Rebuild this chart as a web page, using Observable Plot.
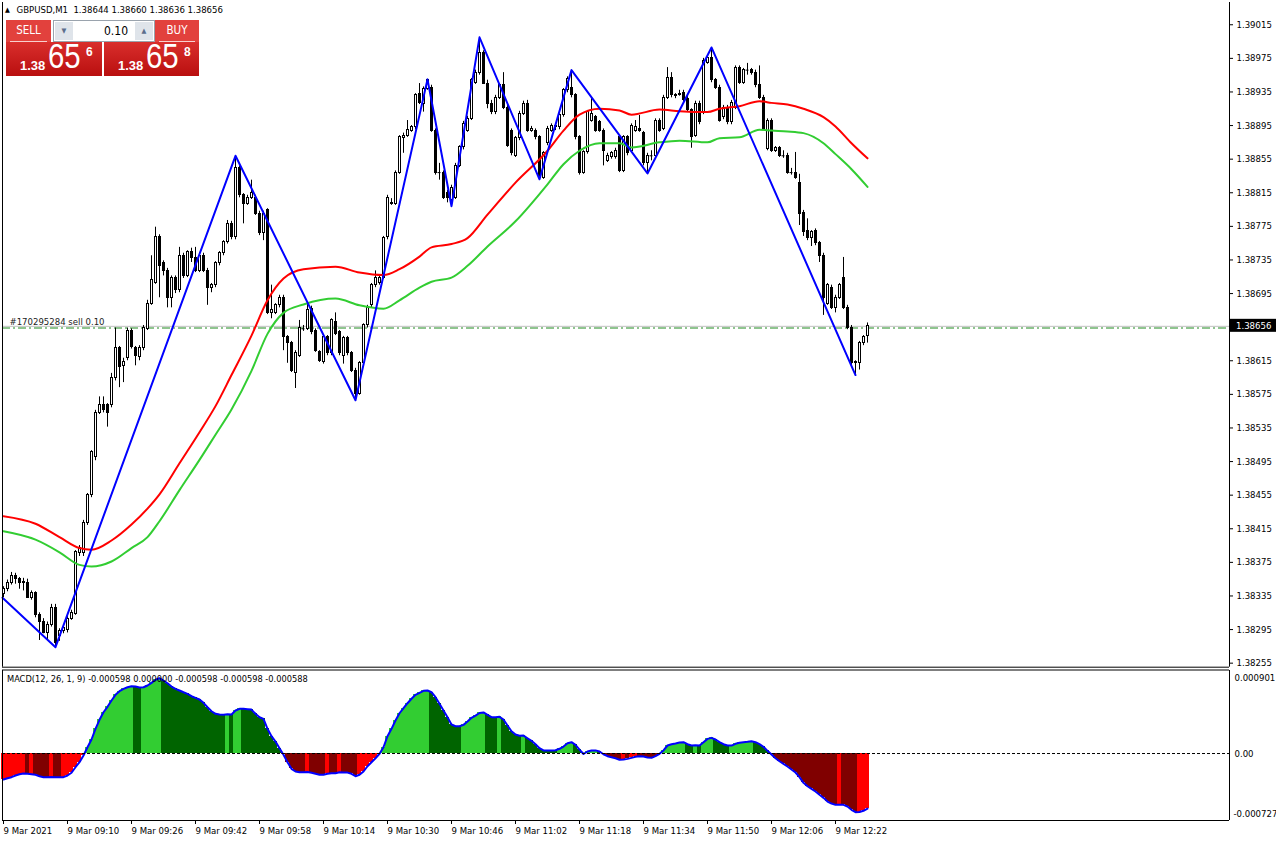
<!DOCTYPE html>
<html><head><meta charset="utf-8">
<script src="https://cdn.jsdelivr.net/npm/d3@7"></script>
<script src="https://cdn.jsdelivr.net/npm/@observablehq/plot@0.6"></script>
<style>
html,body{margin:0;padding:0;background:#fff;}
#wrap{position:relative;width:1276px;height:841px;overflow:hidden;font-family:"DejaVu Sans Condensed","DejaVu Sans",sans-serif;font-stretch:condensed;}
#wrap svg{position:absolute;left:0;top:0;}
#hdr{position:absolute;left:5px;top:4px;font-size:9.5px;white-space:pre;color:#000;line-height:12px;}
#hdr .tri{font-size:7px;vertical-align:1px;margin-right:4px;}
#macdt{position:absolute;left:7px;top:673px;font-size:9.2px;white-space:pre;color:#000;line-height:12px;}
.tb{position:absolute;top:20px;height:22px;background:#e2413d;color:#fff;font-size:11.5px;text-align:center;line-height:20px;font-family:"DejaVu Sans","Liberation Sans",sans-serif;}
.tb .ul{position:absolute;left:4px;right:4px;bottom:0;height:1px;background:rgba(255,255,255,0.75);}
.inp{position:absolute;left:53px;top:20px;width:100px;height:20px;background:#fff;border:1px solid #9aa3ad;}
.spin{position:absolute;top:1px;width:18px;height:18px;background:#dfe4ea;color:#5b6d8c;font-size:7px;text-align:center;line-height:18px;}
.val{position:absolute;right:26px;top:0;font-size:12px;line-height:20px;color:#000;font-family:"DejaVu Sans","Liberation Sans",sans-serif;}
.big{position:absolute;top:42px;height:34px;background:linear-gradient(#d92e2c,#b90f0f);color:#fff;font-family:"Liberation Sans","DejaVu Sans",sans-serif;}
.big span{position:absolute;white-space:nowrap;}
.big .s{font-size:13px;line-height:15px;font-weight:bold;top:16px;}
.big .b{font-size:35px;line-height:35px;top:-4px;transform:scaleX(0.84);transform-origin:0 0;}
.big .p{font-size:12px;line-height:14px;font-weight:bold;top:3px;}
</style></head><body>
<div id="wrap">
  <div id="hdr"><span class="tri">▲</span> GBPUSD,M1  1.38644 1.38660 1.38636 1.38656</div>
  <div class="tb" style="left:6px;width:45px;">SELL<div class="ul"></div></div>
  <div class="inp"><div class="spin" style="left:1px;">▼</div><div class="val">0.10</div><div class="spin" style="right:1px;">▲</div></div>
  <div class="tb" style="left:155px;width:44px;">BUY<div class="ul"></div></div>
  <div class="big" style="left:6px;width:96px;"><span class="s" style="left:14px;">1.38</span><span class="b" style="left:42px;">65</span><span class="p" style="left:80px;">6</span></div>
  <div class="big" style="left:104px;width:95px;"><span class="s" style="left:14px;">1.38</span><span class="b" style="left:42px;">65</span><span class="p" style="left:80px;">8</span></div>
  <div id="macdt">MACD(12, 26, 1, 9) -0.000598 0.000000 -0.000598 -0.000598 -0.000588</div>
</div>
<script>
// ---------- DATA ----------
const openP = [1.38337,1.38343,1.38350,1.38359,1.38355,1.38351,1.38351,1.38333,1.38338,1.38312,
1.38304,1.38291,1.38300,1.38321,1.38287,1.38293,1.38294,1.38308,1.38314,1.38386,
1.38386,1.38422,1.38455,1.38500,1.38553,1.38562,1.38562,1.38562,1.38594,1.38630,
1.38609,1.38618,1.38651,1.38630,1.38619,1.38630,1.38653,1.38683,1.38708,1.38762,
1.38731,1.38722,1.38690,1.38713,1.38699,1.38740,1.38716,1.38744,1.38737,1.38722,
1.38740,1.38722,1.38702,1.38705,1.38731,1.38743,1.38756,1.38778,1.38762,1.38845,
1.38812,1.38802,1.38809,1.38809,1.38790,1.38767,1.38794,1.38672,1.38672,1.38681,
1.38690,1.38643,1.38636,1.38601,1.38621,1.38653,1.38653,1.38677,1.38651,1.38625,
1.38613,1.38643,1.38624,1.38661,1.38649,1.38621,1.38642,1.38624,1.38603,1.38576,
1.38612,1.38657,1.38681,1.38705,1.38707,1.38714,1.38762,1.38802,1.38802,1.38839,
1.38880,1.38883,1.38889,1.38893,1.38933,1.38921,1.38939,1.38940,1.38889,1.38839,
1.38839,1.38815,1.38806,1.38809,1.38847,1.38869,1.38889,1.38903,1.38946,1.38957,
1.38981,1.38945,1.38921,1.38911,1.38928,1.38943,1.38916,1.38889,1.38859,1.38880,
1.38909,1.38921,1.38889,1.38889,1.38881,1.38833,1.38874,1.38889,1.38894,1.38893,
1.38907,1.38937,1.38940,1.38931,1.38881,1.38839,1.38863,1.38901,1.38905,1.38899,
1.38889,1.38853,1.38857,1.38857,1.38881,1.38841,1.38881,1.38865,1.38889,1.38891,
1.38886,1.38850,1.38859,1.38859,1.38901,1.38891,1.38928,1.38952,1.38931,1.38931,
1.38934,1.38927,1.38913,1.38883,1.38921,1.38911,1.38970,1.38975,1.38949,1.38940,
1.38905,1.38916,1.38899,1.38916,1.38964,1.38946,1.38961,1.38961,1.38958,1.38943,
1.38928,1.38867,1.38901,1.38865,1.38868,1.38859,1.38859,1.38839,1.38839,1.38827,
1.38791,1.38770,1.38761,1.38770,1.38755,1.38740,1.38683,1.38702,1.38678,1.38690,
1.38713,1.38678,1.38654,1.38612,1.38612,1.38636,1.38644];
const highP = [1.38346,1.38354,1.38363,1.38362,1.38357,1.38356,1.38355,1.38341,1.38340,1.38315,
1.38308,1.38304,1.38325,1.38325,1.38296,1.38299,1.38312,1.38318,1.38389,1.38395,
1.38425,1.38457,1.38508,1.38556,1.38572,1.38572,1.38564,1.38600,1.38654,1.38632,
1.38618,1.38654,1.38653,1.38632,1.38633,1.38657,1.38687,1.38740,1.38774,1.38765,
1.38734,1.38725,1.38716,1.38716,1.38750,1.38743,1.38746,1.38749,1.38750,1.38744,
1.38743,1.38725,1.38707,1.38733,1.38745,1.38758,1.38782,1.38781,1.38859,1.38847,
1.38814,1.38812,1.38830,1.38812,1.38793,1.38793,1.38796,1.38705,1.38683,1.38693,
1.38693,1.38645,1.38638,1.38627,1.38663,1.38657,1.38683,1.38680,1.38653,1.38627,
1.38645,1.38645,1.38665,1.38672,1.38651,1.38644,1.38644,1.38626,1.38606,1.38614,
1.38659,1.38681,1.38707,1.38722,1.38716,1.38763,1.38812,1.38808,1.38841,1.38883,
1.38886,1.38901,1.38895,1.38933,1.38945,1.38941,1.38950,1.38943,1.38891,1.38850,
1.38841,1.38818,1.38824,1.38850,1.38871,1.38900,1.38906,1.38951,1.38961,1.39000,
1.38984,1.38949,1.38925,1.38931,1.38945,1.38958,1.38919,1.38891,1.38882,1.38912,
1.38924,1.38925,1.38894,1.38891,1.38883,1.38864,1.38894,1.38897,1.38896,1.38909,
1.38939,1.38953,1.38961,1.38933,1.38883,1.38865,1.38913,1.38928,1.38907,1.38901,
1.38891,1.38862,1.38864,1.38868,1.38883,1.38883,1.38883,1.38897,1.38901,1.38907,
1.38888,1.38862,1.38865,1.38903,1.38903,1.38931,1.38964,1.38958,1.38933,1.38937,
1.38937,1.38930,1.38915,1.38924,1.38924,1.38975,1.38977,1.38988,1.38951,1.38943,
1.38919,1.38919,1.38925,1.38966,1.38966,1.38963,1.38969,1.38963,1.38961,1.38966,
1.38931,1.38903,1.38903,1.38870,1.38870,1.38865,1.38862,1.38844,1.38863,1.38837,
1.38794,1.38784,1.38770,1.38772,1.38757,1.38743,1.38707,1.38705,1.38693,1.38707,
1.38738,1.38681,1.38657,1.38615,1.38638,1.38645,1.38660];
const lowP = [1.38333,1.38340,1.38348,1.38349,1.38343,1.38341,1.38332,1.38330,1.38309,1.38282,
1.38290,1.38282,1.38298,1.38274,1.38281,1.38290,1.38291,1.38306,1.38312,1.38382,
1.38382,1.38419,1.38452,1.38496,1.38551,1.38553,1.38536,1.38559,1.38591,1.38583,
1.38589,1.38615,1.38629,1.38609,1.38615,1.38627,1.38651,1.38681,1.38706,1.38690,
1.38716,1.38678,1.38678,1.38695,1.38696,1.38713,1.38714,1.38732,1.38720,1.38720,
1.38720,1.38681,1.38696,1.38702,1.38728,1.38740,1.38754,1.38759,1.38759,1.38809,
1.38778,1.38800,1.38807,1.38788,1.38764,1.38758,1.38670,1.38665,1.38670,1.38678,
1.38627,1.38612,1.38601,1.38582,1.38619,1.38650,1.38651,1.38646,1.38625,1.38613,
1.38611,1.38621,1.38621,1.38645,1.38621,1.38611,1.38621,1.38601,1.38568,1.38574,
1.38609,1.38654,1.38678,1.38702,1.38705,1.38712,1.38759,1.38800,1.38800,1.38837,
1.38862,1.38881,1.38887,1.38890,1.38920,1.38911,1.38937,1.38887,1.38836,1.38830,
1.38807,1.38803,1.38799,1.38807,1.38845,1.38866,1.38887,1.38901,1.38944,1.38955,
1.38944,1.38915,1.38908,1.38908,1.38926,1.38914,1.38869,1.38859,1.38857,1.38877,
1.38907,1.38887,1.38887,1.38878,1.38831,1.38831,1.38871,1.38887,1.38889,1.38890,
1.38905,1.38934,1.38928,1.38878,1.38836,1.38837,1.38861,1.38899,1.38887,1.38887,
1.38847,1.38851,1.38855,1.38855,1.38839,1.38839,1.38859,1.38863,1.38887,1.38887,
1.38847,1.38838,1.38853,1.38857,1.38887,1.38889,1.38926,1.38928,1.38927,1.38930,
1.38922,1.38911,1.38868,1.38881,1.38896,1.38908,1.38968,1.38946,1.38938,1.38899,
1.38902,1.38896,1.38896,1.38914,1.38944,1.38944,1.38955,1.38955,1.38940,1.38926,
1.38889,1.38865,1.38863,1.38863,1.38857,1.38856,1.38837,1.38836,1.38831,1.38776,
1.38763,1.38758,1.38751,1.38752,1.38732,1.38669,1.38681,1.38676,1.38672,1.38688,
1.38676,1.38652,1.38609,1.38598,1.38604,1.38633,1.38636];
const closeP = [1.38343,1.38350,1.38359,1.38355,1.38351,1.38352,1.38333,1.38338,1.38312,1.38304,
1.38291,1.38300,1.38321,1.38279,1.38293,1.38297,1.38308,1.38315,1.38387,1.38392,
1.38422,1.38455,1.38506,1.38553,1.38562,1.38556,1.38553,1.38595,1.38630,1.38607,
1.38613,1.38651,1.38631,1.38621,1.38630,1.38654,1.38683,1.38711,1.38762,1.38728,
1.38722,1.38690,1.38714,1.38699,1.38740,1.38716,1.38744,1.38737,1.38722,1.38740,
1.38722,1.38702,1.38705,1.38731,1.38743,1.38756,1.38778,1.38762,1.38844,1.38812,
1.38802,1.38809,1.38815,1.38790,1.38767,1.38790,1.38672,1.38675,1.38681,1.38690,
1.38643,1.38636,1.38603,1.38624,1.38654,1.38653,1.38675,1.38649,1.38627,1.38615,
1.38643,1.38624,1.38664,1.38647,1.38624,1.38642,1.38624,1.38603,1.38576,1.38612,
1.38657,1.38678,1.38705,1.38713,1.38713,1.38761,1.38809,1.38803,1.38839,1.38881,
1.38883,1.38890,1.38893,1.38931,1.38922,1.38939,1.38949,1.38889,1.38838,1.38839,
1.38809,1.38809,1.38821,1.38847,1.38869,1.38897,1.38903,1.38949,1.38957,1.38981,
1.38945,1.38921,1.38911,1.38928,1.38943,1.38916,1.38871,1.38862,1.38880,1.38909,
1.38921,1.38889,1.38891,1.38881,1.38833,1.38862,1.38891,1.38895,1.38893,1.38907,
1.38937,1.38951,1.38931,1.38881,1.38839,1.38863,1.38911,1.38909,1.38889,1.38889,
1.38865,1.38859,1.38862,1.38865,1.38841,1.38881,1.38862,1.38895,1.38893,1.38889,
1.38850,1.38859,1.38859,1.38901,1.38889,1.38928,1.38952,1.38931,1.38930,1.38933,
1.38925,1.38913,1.38881,1.38921,1.38899,1.38972,1.38975,1.38949,1.38940,1.38901,
1.38916,1.38899,1.38922,1.38964,1.38946,1.38961,1.38961,1.38957,1.38943,1.38928,
1.38891,1.38901,1.38865,1.38868,1.38859,1.38859,1.38839,1.38839,1.38833,1.38790,
1.38768,1.38761,1.38768,1.38755,1.38740,1.38690,1.38705,1.38678,1.38690,1.38705,
1.38678,1.38654,1.38612,1.38613,1.38636,1.38643,1.38656];

// moving averages at these bar indices
const maIdx = [0,8,14,19,22,27,32,36,39,44,49,53,57,62,66,70,75,83,89,95,99,104,107,112,116,121,128,136,140,144,149,154,157,164,169,176,179,184,189,192,196,200,205,208,212,216];
const redMA = [1.38430,1.38421,1.38405,1.38392,1.38390,1.38401,1.38420,1.38439,1.38456,1.38493,1.38530,1.38561,1.38598,1.38645,1.38687,1.38713,1.38724,1.38727,1.38720,1.38717,1.38724,1.38739,1.38750,1.38754,1.38761,1.38789,1.38827,1.38865,1.38889,1.38908,1.38915,1.38913,1.38908,1.38914,1.38912,1.38911,1.38915,1.38918,1.38924,1.38922,1.38920,1.38915,1.38905,1.38894,1.38874,1.38856];
const greenMA = [1.38412,1.38402,1.38387,1.38372,1.38370,1.38376,1.38392,1.38405,1.38424,1.38461,1.38497,1.38527,1.38557,1.38603,1.38647,1.38672,1.38682,1.38689,1.38681,1.38677,1.38687,1.38702,1.38709,1.38714,1.38728,1.38751,1.38781,1.38825,1.38849,1.38865,1.38874,1.38874,1.38869,1.38875,1.38877,1.38875,1.38880,1.38881,1.38890,1.38889,1.38888,1.38886,1.38874,1.38861,1.38843,1.38822];

// zigzag turning points
const zzIdx = [-0.25,13,58,88,106,112,119,134,142,161,177,213];
const zzPrice = [1.38333,1.38274,1.38859,1.38568,1.38950,1.38799,1.39000,1.38831,1.38961,1.38838,1.38988,1.38598];

// MACD histogram values (millionths)
const macdVals = [-282,-268,-257,-239,-225,-217,-220,-225,-231,-246,
-257,-257,-256,-258,-258,-257,-239,-209,-149,-94,
-22,68,152,268,366,448,507,575,637,676,
702,719,730,727,716,719,738,767,800,817,
792,763,727,702,684,665,648,622,604,586,
550,502,459,431,423,422,426,423,467,485,
485,481,477,431,394,376,268,188,130,58,
-14,-94,-166,-195,-203,-204,-201,-209,-220,-231,
-231,-220,-214,-215,-203,-206,-207,-220,-246,-231,
-195,-138,-94,-51,-3,68,188,268,358,437,
492,546,594,637,659,680,684,665,611,539,
467,394,315,296,296,311,347,387,412,440,
446,420,394,393,398,369,304,242,206,192,
195,166,138,101,58,33,33,32,36,51,
76,112,123,94,43,-5,22,33,34,22,
-8,-29,-40,-51,-68,-66,-58,-47,-36,-29,
-33,-43,-47,-29,-3,33,87,101,109,119,
123,101,87,90,87,123,159,170,152,123,
101,87,86,105,116,123,127,133,123,101,
73,29,-11,-51,-84,-112,-141,-174,-206,-257,
-318,-355,-383,-412,-448,-481,-521,-543,-557,-555,
-557,-575,-611,-637,-635,-622,-598].map(v => v / 1e6);
// histogram shade per bar (L rising>0, G falling>0, R rising<0, D falling<0), as runs
const macdRuns = [[6,"R"],[1,"D"],[1,"R"],[4,"D"],[1,"R"],[2,"D"],[6,"R"],[12,"L"],[2,"G"],[5,"L"],[16,"G"],[1,"L"],[1,"G"],[2,"L"],[10,"G"],[6,"D"],[1,"R"],[4,"D"],[1,"R"],[2,"D"],[1,"R"],[4,"D"],[6,"R"],[12,"L"],[8,"G"],[6,"L"],[3,"G"],[1,"L"],[5,"G"],[1,"L"],[8,"G"],[4,"L"],[2,"G"],[1,"D"],[3,"L"],[1,"G"],[5,"D"],[1,"R"],[1,"D"],[2,"R"],[6,"D"],[6,"L"],[2,"G"],[1,"L"],[1,"G"],[3,"L"],[4,"G"],[6,"L"],[4,"G"],[17,"D"],[1,"R"],[4,"D"],[3,"R"]];

const priceTicks = [1.39015,1.38975,1.38935,1.38895,1.38855,1.38815,1.38775,1.38735,1.38695,1.38615,1.38575,1.38535,1.38495,1.38455,1.38415,1.38375,1.38335,1.38295,1.38255];
const currentPrice = 1.38656;
const orderPrice = 1.38654;
const orderLabel = "#170295284 sell 0.10";
const timeIdx = [0,16,32,48,64,80,96,112,128,144,160,176,192,208];
const timeLabels = ["9 Mar 2021","9 Mar 09:10","9 Mar 09:26","9 Mar 09:42","9 Mar 09:58","9 Mar 10:14","9 Mar 10:30","9 Mar 10:46","9 Mar 11:02","9 Mar 11:18","9 Mar 11:34","9 Mar 11:50","9 Mar 12:06","9 Mar 12:22"];
const macdMax = 0.000901, macdMin = -0.000727;
const macdScaleLabels = ["0.000901","0.00","-0.000727"];

// ---------- BUILD ----------
const W = 1276, H = 841;
const fontStack = '"DejaVu Sans Condensed","DejaVu Sans",sans-serif';
const xDomain = [-0.25, 306.5];
const shade = {L:"#32cd32", G:"#006400", R:"#ff0000", D:"#800000"};

const candles = closeP.map((c, i) => ({i, o: openP[i], h: highP[i], l: lowP[i], c}));
const bull = candles.filter(d => d.c > d.o);
const bear = candles.filter(d => d.c < d.o);
const doji = candles.filter(d => d.c === d.o);
const maData = maIdx.map((i, k) => ({i, r: redMA[k], g: greenMA[k]}));
const zz = zzIdx.map((i, k) => ({i, p: zzPrice[k]}));
const trend = macdRuns.flatMap(([n, t]) => Array(n).fill(t));
const macd = macdVals.map((v, i) => ({i, v, t: trend[i] || "D"}));

const baseStyle = {background: "transparent", fontFamily: fontStack, fontSize: "9.5px", fontStretch: "condensed", overflow: "visible", color: "#000"};

const priceBox = (index, scales, values, dims) => {
  const y = scales.y(currentPrice);
  const x0 = dims.width - dims.marginRight + 1;
  const g = d3.create("svg:g");
  g.append("rect").attr("x", x0).attr("y", y - 7).attr("width", 46).attr("height", 13).attr("fill", "#000");
  g.append("text").attr("x", x0 + 6).attr("y", y).attr("dy", "0.35em").attr("fill", "#fff")
    .attr("text-anchor", "start").attr("font-size", "9.5px").text(currentPrice.toFixed(5));
  return g.node();
};

const main = Plot.plot({
  width: W, height: H,
  marginLeft: 2, marginRight: 47, marginTop: 2, marginBottom: 174.3,
  style: baseStyle,
  x: {type: "linear", domain: xDomain, axis: null},
  y: {type: "linear", domain: [1.382502, 1.390415], axis: null},
  marks: [
    Plot.ruleY([currentPrice], {stroke: "#c0c0c0"}),
    Plot.ruleY([orderPrice], {stroke: "#1f8a1f", strokeDasharray: "8,3,2,3"}),
    Plot.ruleX(candles, {x: "i", y1: "l", y2: "h", stroke: "#000"}),
    Plot.rect(bear, {x1: d => d.i - 0.25, x2: d => d.i + 0.25, y1: "o", y2: "c", fill: "#000", stroke: "#000", shapeRendering: "crispEdges"}),
    Plot.rect(bull, {x1: d => d.i - 0.25, x2: d => d.i + 0.25, y1: "o", y2: "c", fill: "#fff", stroke: "#000", shapeRendering: "crispEdges"}),
    Plot.ruleY(doji, {y: "c", x1: d => d.i - 0.375, x2: d => d.i + 0.375, stroke: "#000"}),
    Plot.line(maData, {x: "i", y: "r", stroke: "#ff0000", strokeWidth: 2, curve: "monotone-x"}),
    Plot.line(maData, {x: "i", y: "g", stroke: "#32cd32", strokeWidth: 2, curve: "monotone-x"}),
    Plot.line(zz, {x: "i", y: "p", stroke: "#0000ff", strokeWidth: 2}),
    Plot.text([orderLabel], {frameAnchor: "left", y: () => orderPrice, text: d => d, dx: 7, dy: -6, textAnchor: "start", fill: "#222"}),
    Plot.axisY(priceTicks, {anchor: "right", tickSize: 3, tickPadding: 4, tickFormat: d => d.toFixed(5), label: null}),
    Plot.ruleX([xDomain[1]], {stroke: "#000"}),
    Plot.ruleX([xDomain[0]], {stroke: "#000"}),
    Plot.ruleY([1.382502], {stroke: "#000"}),
    priceBox
  ]
});

const sub = Plot.plot({
  width: W, height: H,
  marginLeft: 2, marginRight: 47, marginTop: 670, marginBottom: 21,
  style: baseStyle,
  x: {type: "linear", domain: xDomain, axis: null},
  y: {type: "linear", domain: [macdMin, macdMax], axis: null},
  marks: [
    Plot.rect(macd, {x1: d => d.i - 0.5, x2: d => d.i + 0.5, y1: () => 0, y2: "v", fill: d => shade[d.t], shapeRendering: "crispEdges"}),
    Plot.line(macd, {x: "i", y: "v", stroke: "#0000ff", strokeWidth: 2}),
    Plot.ruleY([0], {stroke: "#000", strokeDasharray: "3,2"}),
    Plot.text([macdScaleLabels[0]], {frameAnchor: "right", y: () => macdMax, text: d => d, dx: 5, dy: 7, textAnchor: "start"}),
    Plot.text([macdScaleLabels[1]], {frameAnchor: "right", y: () => 0, text: d => d, dx: 5, textAnchor: "start"}),
    Plot.text([macdScaleLabels[2]], {frameAnchor: "right", y: () => macdMin, text: d => d, dx: 4, dy: -7, textAnchor: "start"}),
    Plot.axisX(timeIdx, {anchor: "bottom", tickSize: 4, tickPadding: 3, textAnchor: "start", tickFormat: d => timeLabels[timeIdx.indexOf(d)], label: null}),
    Plot.ruleX([xDomain[1]], {stroke: "#000"}),
    Plot.ruleX([xDomain[0]], {stroke: "#000"}),
    Plot.ruleY([macdMax], {stroke: "#000", dy: -0.5}),
    Plot.ruleY([macdMin], {stroke: "#000"})
  ]
});

const wrap = document.getElementById("wrap");
wrap.insertBefore(sub, wrap.firstChild);
wrap.insertBefore(main, wrap.firstChild);
</script>
</body></html>
